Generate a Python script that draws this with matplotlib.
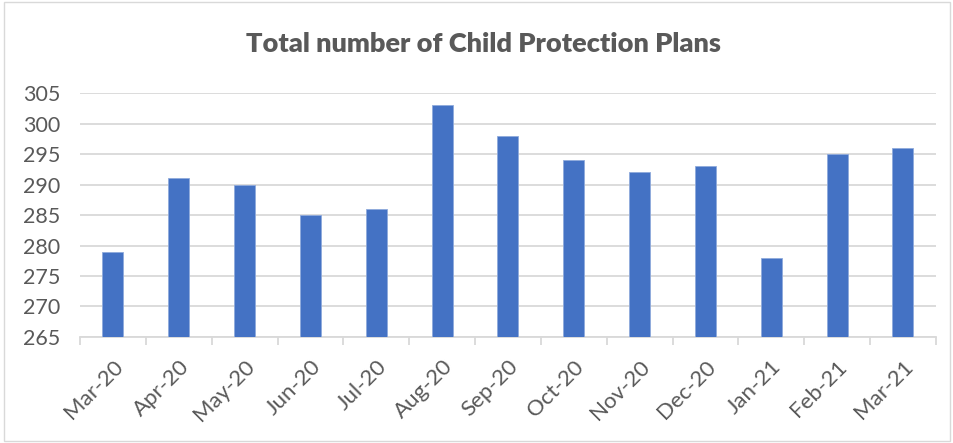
import matplotlib
matplotlib.use("Agg")
import matplotlib.pyplot as plt
from matplotlib.patches import Rectangle

months = ["Mar-20", "Apr-20", "May-20", "Jun-20", "Jul-20", "Aug-20", "Sep-20",
          "Oct-20", "Nov-20", "Dec-20", "Jan-21", "Feb-21", "Mar-21"]
plans = [279, 291, 290, 285, 286, 303, 298, 294, 292, 293, 278, 295, 296]
yticks = [265, 270, 275, 280, 285, 290, 295, 300, 305]

plt.rcParams['font.family'] = ['Lato', 'DejaVu Sans']
txt = '#595959'

fig = plt.figure(figsize=(9.54, 4.43), dpi=100)
ax = fig.add_axes([0.0839, 0.2393, 0.8971, 0.5507])
x = list(range(len(months)))
ax.bar(x, plans, width=0.32, color='#4472C4', edgecolor='#8FAADC', linewidth=0.6, zorder=3)
ax.set_ylim(265, 305)
ax.set_xlim(-0.5, len(months) - 0.5)
ax.set_yticks(yticks)
ax.set_yticklabels([str(v) for v in yticks], fontsize=15.5, color=txt)
ax.yaxis.grid(True, color='#D9D9D9', linewidth=1.3, zorder=0)
ax.tick_params(axis='y', length=0, pad=14)
ax.set_xticks([i - 0.5 for i in range(len(months) + 1)], minor=True)
ax.set_xticks(x)
ax.set_xticklabels(months, rotation=45, ha='right', va='top', rotation_mode='anchor',
                   fontsize=16, color=txt)
ax.tick_params(axis='x', which='major', length=0, pad=14)
ax.tick_params(axis='x', which='minor', length=6, color='#D9D9D9', width=1.3)
for s in ['top', 'right', 'left']:
    ax.spines[s].set_visible(False)
ax.spines['bottom'].set_color('#D9D9D9')
ax.spines['bottom'].set_linewidth(1.3)

fig.text(0.507, 0.9, "Total number of Child Protection Plans", ha='center', va='center',
         fontsize=19.5, fontweight='heavy', color=txt)
fig.patches.append(Rectangle((0.004, 0.004), 0.992, 0.992, transform=fig.transFigure,
                             fill=False, edgecolor='#D9D9D9', linewidth=1))
fig.savefig("out.png", dpi=100)
